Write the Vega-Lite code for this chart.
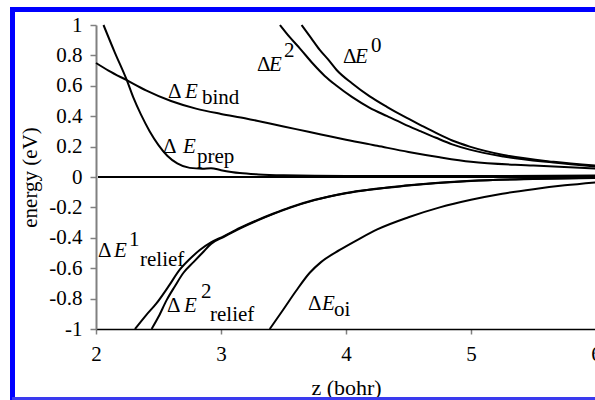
{
  "$schema": "https://vega.github.io/schema/vega-lite/v6.json",
  "width": 500,
  "height": 304,
  "autosize": "none",
  "padding": {"left": 96, "top": 25, "right": 0, "bottom": 71},
  "background": "white",
  "config": {
    "view": {"stroke": null},
    "font": "Liberation Serif"
  },
  "datasets": {
    "curves": [
      {"series": "bind", "z": 2.0, "e": 0.75},
      {"series": "bind", "z": 2.1, "e": 0.70},
      {"series": "bind", "z": 2.25, "e": 0.635},
      {"series": "bind", "z": 2.4, "e": 0.57},
      {"series": "bind", "z": 2.6, "e": 0.50},
      {"series": "bind", "z": 2.8, "e": 0.45},
      {"series": "bind", "z": 3.0, "e": 0.415},
      {"series": "bind", "z": 3.2, "e": 0.385},
      {"series": "bind", "z": 3.4, "e": 0.35},
      {"series": "bind", "z": 3.6, "e": 0.315},
      {"series": "bind", "z": 3.8, "e": 0.28},
      {"series": "bind", "z": 4.0, "e": 0.245},
      {"series": "bind", "z": 4.25, "e": 0.205},
      {"series": "bind", "z": 4.5, "e": 0.165},
      {"series": "bind", "z": 4.75, "e": 0.13},
      {"series": "bind", "z": 5.0, "e": 0.10},
      {"series": "bind", "z": 5.5, "e": 0.075},
      {"series": "bind", "z": 6.0, "e": 0.055},

      {"series": "prep", "z": 2.06, "e": 1.0},
      {"series": "prep", "z": 2.15, "e": 0.82},
      {"series": "prep", "z": 2.245, "e": 0.64},
      {"series": "prep", "z": 2.3, "e": 0.52},
      {"series": "prep", "z": 2.36, "e": 0.41},
      {"series": "prep", "z": 2.43, "e": 0.30},
      {"series": "prep", "z": 2.5, "e": 0.21},
      {"series": "prep", "z": 2.57, "e": 0.14},
      {"series": "prep", "z": 2.65, "e": 0.09},
      {"series": "prep", "z": 2.75, "e": 0.06},
      {"series": "prep", "z": 2.85, "e": 0.055},
      {"series": "prep", "z": 2.92, "e": 0.058},
      {"series": "prep", "z": 3.0, "e": 0.045},
      {"series": "prep", "z": 3.15, "e": 0.026},
      {"series": "prep", "z": 3.3, "e": 0.017},
      {"series": "prep", "z": 3.5, "e": 0.011},
      {"series": "prep", "z": 4.0, "e": 0.006},
      {"series": "prep", "z": 5.0, "e": 0.006},
      {"series": "prep", "z": 6.0, "e": 0.01},

      {"series": "E2", "z": 3.472, "e": 1.0},
      {"series": "E2", "z": 3.55, "e": 0.92},
      {"series": "E2", "z": 3.632, "e": 0.845},
      {"series": "E2", "z": 3.736, "e": 0.745},
      {"series": "E2", "z": 3.83, "e": 0.665},
      {"series": "E2", "z": 3.925, "e": 0.6},
      {"series": "E2", "z": 4.05, "e": 0.525},
      {"series": "E2", "z": 4.19, "e": 0.455},
      {"series": "E2", "z": 4.33, "e": 0.4},
      {"series": "E2", "z": 4.46, "e": 0.35},
      {"series": "E2", "z": 4.6, "e": 0.3},
      {"series": "E2", "z": 4.72, "e": 0.258},
      {"series": "E2", "z": 4.85, "e": 0.215},
      {"series": "E2", "z": 4.99, "e": 0.18},
      {"series": "E2", "z": 5.26, "e": 0.135},
      {"series": "E2", "z": 5.66, "e": 0.095},
      {"series": "E2", "z": 6.0, "e": 0.068},

      {"series": "E0", "z": 3.645, "e": 1.0},
      {"series": "E0", "z": 3.72, "e": 0.915},
      {"series": "E0", "z": 3.79, "e": 0.836},
      {"series": "E0", "z": 3.86, "e": 0.77},
      {"series": "E0", "z": 3.925, "e": 0.704},
      {"series": "E0", "z": 4.05, "e": 0.615},
      {"series": "E0", "z": 4.19, "e": 0.53},
      {"series": "E0", "z": 4.33, "e": 0.46},
      {"series": "E0", "z": 4.46, "e": 0.40},
      {"series": "E0", "z": 4.6, "e": 0.34},
      {"series": "E0", "z": 4.72, "e": 0.29},
      {"series": "E0", "z": 4.85, "e": 0.24},
      {"series": "E0", "z": 4.99, "e": 0.20},
      {"series": "E0", "z": 5.26, "e": 0.145},
      {"series": "E0", "z": 5.66, "e": 0.10},
      {"series": "E0", "z": 6.0, "e": 0.075},

      {"series": "relief1", "z": 2.312, "e": -1.0},
      {"series": "relief1", "z": 2.4, "e": -0.91},
      {"series": "relief1", "z": 2.485, "e": -0.83},
      {"series": "relief1", "z": 2.58, "e": -0.72},
      {"series": "relief1", "z": 2.67, "e": -0.61},
      {"series": "relief1", "z": 2.75, "e": -0.54},
      {"series": "relief1", "z": 2.83, "e": -0.48},
      {"series": "relief1", "z": 2.92, "e": -0.43},
      {"series": "relief1", "z": 3.02, "e": -0.39},
      {"series": "relief1", "z": 3.15, "e": -0.335},
      {"series": "relief1", "z": 3.285, "e": -0.285},
      {"series": "relief1", "z": 3.42, "e": -0.24},
      {"series": "relief1", "z": 3.55, "e": -0.2},
      {"series": "relief1", "z": 3.75, "e": -0.15},
      {"series": "relief1", "z": 4.0, "e": -0.105},
      {"series": "relief1", "z": 4.5, "e": -0.055},
      {"series": "relief1", "z": 5.0, "e": -0.025},
      {"series": "relief1", "z": 5.5, "e": -0.012},
      {"series": "relief1", "z": 6.0, "e": -0.005},

      {"series": "relief2", "z": 2.445, "e": -1.0},
      {"series": "relief2", "z": 2.5, "e": -0.92},
      {"series": "relief2", "z": 2.565, "e": -0.81},
      {"series": "relief2", "z": 2.63, "e": -0.72},
      {"series": "relief2", "z": 2.7, "e": -0.63},
      {"series": "relief2", "z": 2.78, "e": -0.56},
      {"series": "relief2", "z": 2.85, "e": -0.50},
      {"series": "relief2", "z": 2.92, "e": -0.44},
      {"series": "relief2", "z": 3.02, "e": -0.395},
      {"series": "relief2", "z": 3.15, "e": -0.34},
      {"series": "relief2", "z": 3.285, "e": -0.289},
      {"series": "relief2", "z": 3.42, "e": -0.243},
      {"series": "relief2", "z": 3.55, "e": -0.203},
      {"series": "relief2", "z": 3.75, "e": -0.152},
      {"series": "relief2", "z": 4.0, "e": -0.107},
      {"series": "relief2", "z": 4.5, "e": -0.056},
      {"series": "relief2", "z": 5.0, "e": -0.026},
      {"series": "relief2", "z": 5.5, "e": -0.013},
      {"series": "relief2", "z": 6.0, "e": -0.006},

      {"series": "oi", "z": 3.39, "e": -1.0},
      {"series": "oi", "z": 3.5, "e": -0.87},
      {"series": "oi", "z": 3.6, "e": -0.75},
      {"series": "oi", "z": 3.71, "e": -0.63},
      {"series": "oi", "z": 3.8, "e": -0.56},
      {"series": "oi", "z": 3.95, "e": -0.48},
      {"series": "oi", "z": 4.1, "e": -0.41},
      {"series": "oi", "z": 4.25, "e": -0.345},
      {"series": "oi", "z": 4.5, "e": -0.265},
      {"series": "oi", "z": 4.75, "e": -0.2},
      {"series": "oi", "z": 5.0, "e": -0.15},
      {"series": "oi", "z": 5.25, "e": -0.11},
      {"series": "oi", "z": 5.5, "e": -0.08},
      {"series": "oi", "z": 5.75, "e": -0.055},
      {"series": "oi", "z": 6.0, "e": -0.035}
    ],
    "labelUpright": [
      {"z": 2.576, "e": 0.52, "t": "Δ"},
      {"z": 2.848, "e": 0.48, "t": "bind"},
      {"z": 2.536, "e": 0.158, "t": "Δ"},
      {"z": 2.808, "e": 0.092, "t": "prep"},
      {"z": 3.288, "e": 0.697, "t": "Δ"},
      {"z": 3.504, "e": 0.789, "t": "2"},
      {"z": 3.976, "e": 0.75, "t": "Δ"},
      {"z": 4.2, "e": 0.822, "t": "0"},
      {"z": 2.016, "e": -0.526, "t": "Δ"},
      {"z": 2.264, "e": -0.454, "t": "1"},
      {"z": 2.352, "e": -0.586, "t": "relief"},
      {"z": 2.568, "e": -0.888, "t": "Δ"},
      {"z": 2.84, "e": -0.796, "t": "2"},
      {"z": 2.912, "e": -0.947, "t": "relief"},
      {"z": 3.696, "e": -0.875, "t": "Δ"},
      {"z": 3.904, "e": -0.914, "t": "oi"}
    ],
    "labelItalic": [
      {"z": 2.712, "e": 0.52, "t": "E"},
      {"z": 2.696, "e": 0.158, "t": "E"},
      {"z": 3.384, "e": 0.697, "t": "E"},
      {"z": 4.072, "e": 0.75, "t": "E"},
      {"z": 2.144, "e": -0.526, "t": "E"},
      {"z": 2.704, "e": -0.888, "t": "E"},
      {"z": 3.808, "e": -0.875, "t": "E"}
    ]
  },
  "data": {"name": "curves"},
  "encoding": {
    "x": {
      "field": "z", "type": "quantitative",
      "scale": {"domain": [2, 6], "nice": false, "zero": false},
      "axis": {
        "title": "z (bohr)",
        "values": [2, 3, 4, 5, 6],
        "grid": false,
        "domainColor": "black",
        "domainWidth": 1.5,
        "tickColor": "#808080",
        "tickSize": 5,
        "tickWidth": 1.5,
        "labelFont": "Liberation Serif",
        "labelFontSize": 21,
        "labelColor": "black",
        "labelPadding": 9,
        "labelFlush": false,
        "labelOverlap": false,
        "titleFont": "Liberation Serif",
        "titleFontSize": 22,
        "titleFontWeight": "normal",
        "titleColor": "black",
        "titlePadding": 13
      }
    },
    "y": {
      "field": "e", "type": "quantitative",
      "scale": {"domain": [-1, 1], "nice": false, "zero": false},
      "axis": {
        "title": "energy (eV)",
        "values": [-1, -0.8, -0.6, -0.4, -0.2, 0, 0.2, 0.4, 0.6, 0.8, 1],
        "labelExpr": "toString(round(datum.value * 10) / 10)",
        "grid": false,
        "domainColor": "#808080",
        "domainWidth": 2,
        "tickColor": "#808080",
        "tickSize": 6,
        "tickWidth": 1.5,
        "labelFont": "Liberation Serif",
        "labelFontSize": 21,
        "labelColor": "black",
        "labelPadding": 8,
        "labelFlush": false,
        "labelOverlap": false,
        "titleFont": "Liberation Serif",
        "titleFontSize": 21,
        "titleFontWeight": "normal",
        "titleColor": "black",
        "titlePadding": 8
      }
    }
  },
  "layer": [
    {
      "mark": {"type": "line", "color": "black", "strokeWidth": 2, "interpolate": "monotone"},
      "encoding": {"detail": {"field": "series"}}
    },
    {
      "mark": {"type": "rule", "color": "black", "strokeWidth": 1.5},
      "encoding": {
        "x": {"datum": 2.02},
        "x2": {"datum": 6},
        "y": {"datum": 0}
      }
    },
    {
      "mark": {"type": "rule", "color": "#0000ff", "strokeWidth": 5, "clip": false},
      "encoding": {
        "x": {"datum": 1.332},
        "y": {"datum": 1.105},
        "y2": {"datum": -1.5}
      }
    },
    {
      "mark": {"type": "rule", "color": "#0000ff", "strokeWidth": 5, "clip": false},
      "encoding": {
        "x": {"datum": 1.312},
        "x2": {"datum": 6.1},
        "y": {"datum": 1.102}
      }
    },
    {
      "mark": {"type": "rule", "color": "#3a3aee", "strokeWidth": 2, "clip": false},
      "encoding": {
        "x": {"datum": 1.332},
        "x2": {"datum": 6.1},
        "y": {"datum": -1.457}
      }
    },
    {
      "data": {"name": "labelUpright"},
      "mark": {"type": "text", "font": "Liberation Serif", "fontSize": 21, "align": "left", "baseline": "alphabetic", "color": "black"},
      "encoding": {"text": {"field": "t"}}
    },
    {
      "data": {"name": "labelItalic"},
      "mark": {"type": "text", "font": "Liberation Serif", "fontSize": 21, "fontStyle": "italic", "align": "left", "baseline": "alphabetic", "color": "black"},
      "encoding": {"text": {"field": "t"}}
    }
  ]
}
